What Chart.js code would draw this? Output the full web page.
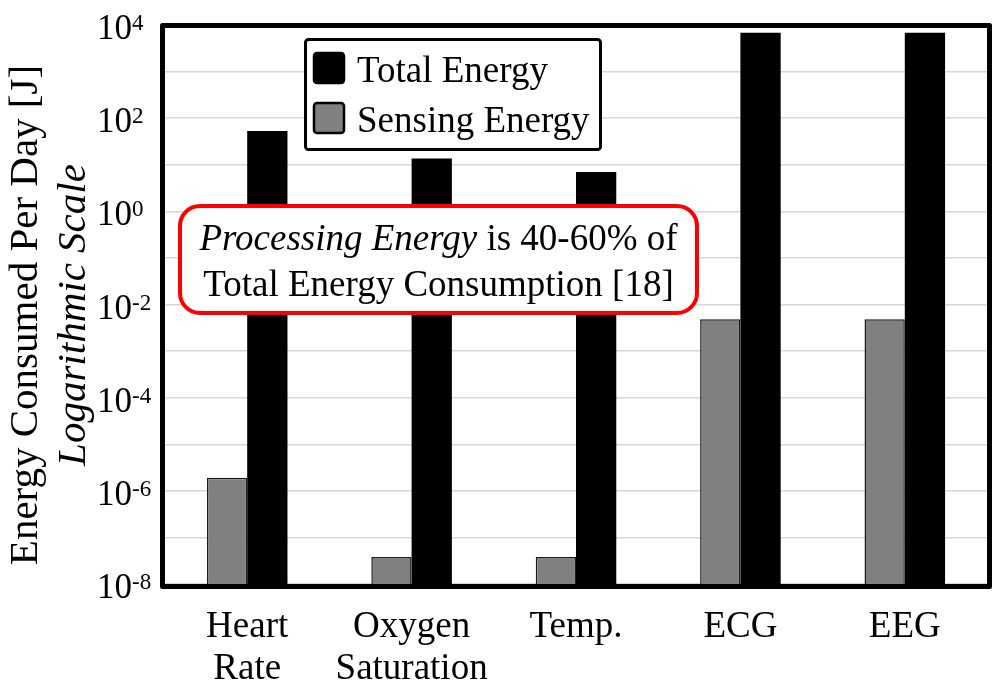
<!DOCTYPE html>
<html>
<head>
<meta charset="utf-8">
<title>Energy Consumed Per Day</title>
<script src="https://cdn.jsdelivr.net/npm/chart.js@4.4.1/dist/chart.umd.min.js"></script>
<style>
    html, body { margin: 0; padding: 0; background: #fff; }
    #wrap { width: 1004px; height: 697px; }
</style>
</head>
<body>
<div id="wrap"><canvas id="energyChart" width="1004" height="697"></canvas></div>
<script>
// ========== DATA ==========
const categories = [['Heart', 'Rate'], ['Oxygen', 'Saturation'], 'Temp.', 'ECG', 'EEG'];
const sensingEnergy = [1.9e-6, 3.8e-8, 3.8e-8, 4.8e-3, 4.8e-3];   // J per day
const totalEnergy = [53, 13.7, 7.0, 6800, 6800];                   // J per day
const yTickValues = [1e4, 1e3, 1e2, 1e1, 1e0, 1e-1, 1e-2, 1e-3, 1e-4, 1e-5, 1e-6, 1e-7, 1e-8];
const yLabelExponents = [4, 2, 0, -2, -4, -6, -8];
// ==========================

const SERIF = "'Liberation Serif', 'Times New Roman', serif";

function roundRectPath(ctx, x, y, w, h, r) {
    ctx.beginPath();
    ctx.moveTo(x + r, y);
    ctx.arcTo(x + w, y, x + w, y + h, r);
    ctx.arcTo(x + w, y + h, x, y + h, r);
    ctx.arcTo(x, y + h, x, y, r);
    ctx.arcTo(x, y, x + w, y, r);
    ctx.closePath();
}

// --- frame, legend, callout box, y labels and axis title ---
const decorations = {
    id: 'decorations',
    beforeDraw(chart) {
        const ctx = chart.ctx;
        ctx.save();
        ctx.fillStyle = '#fff';
        ctx.fillRect(0, 0, chart.width, chart.height);
        ctx.restore();
    },
    afterDatasetsDraw(chart) {
        const { ctx, chartArea: a } = chart;
        ctx.save();

        // thick plot frame
        ctx.lineWidth = 5;
        ctx.strokeStyle = '#000';
        ctx.lineJoin = 'round';
        ctx.strokeRect(a.left - 2.5, a.top + 0.5, a.right - a.left + 5, a.bottom - a.top + 2);

        // legend (Total first, like the original)
        ctx.lineWidth = 3;
        roundRectPath(ctx, 305.5, 39.5, 295, 110, 3);
        ctx.fillStyle = '#fff';
        ctx.fill();
        ctx.stroke();
        const items = chart.data.datasets.slice().reverse();
        ctx.font = `37px ${SERIF}`;
        ctx.textAlign = 'left';
        ctx.textBaseline = 'alphabetic';
        items.forEach((ds, i) => {
            const y = 52 + i * 50;
            roundRectPath(ctx, 314, y + 1, 30, 30, 3);
            ctx.fillStyle = ds.backgroundColor;
            ctx.fill();
            ctx.lineWidth = 2.5;
            ctx.stroke();
            ctx.fillStyle = '#000';
            ctx.fillText(ds.label, 357, y + 30);
        });

        // red callout
        roundRectPath(ctx, 180, 206, 517, 107, 20);
        ctx.fillStyle = '#fff';
        ctx.fill();
        ctx.lineWidth = 4;
        ctx.strokeStyle = '#ff0000';
        ctx.stroke();

        const cx = 438.5;
        const part1 = 'Processing Energy';
        const part2 = ' is 40-60% of';
        ctx.fillStyle = '#000';
        ctx.font = `italic 37px ${SERIF}`;
        const w1 = ctx.measureText(part1).width;
        ctx.font = `37px ${SERIF}`;
        const w2 = ctx.measureText(part2).width;
        const x0 = cx - (w1 + w2) / 2;
        ctx.font = `italic 37px ${SERIF}`;
        ctx.fillText(part1, x0, 250);
        ctx.font = `37px ${SERIF}`;
        ctx.fillText(part2, x0 + w1, 250);
        ctx.textAlign = 'center';
        ctx.fillText('Total Energy Consumption [18]', cx, 296);

        ctx.restore();
    },
    afterDraw(chart) {
        const ctx = chart.ctx;
        const yScale = chart.scales.y;
        ctx.save();
        ctx.fillStyle = '#000';
        ctx.textAlign = 'left';
        ctx.textBaseline = 'alphabetic';

        // 10^n tick labels with raised exponent
        yLabelExponents.forEach(e => {
            const py = yScale.getPixelForValue(Math.pow(10, e));
            ctx.font = `35px ${SERIF}`;
            ctx.fillText('10', 97, py + 14);
            const w = ctx.measureText('10').width;
            ctx.font = `23px ${SERIF}`;
            ctx.fillText(String(e), 97 + w, py + 5);
        });

        // two-line rotated axis title
        ctx.textAlign = 'center';
        ctx.save();
        ctx.translate(37, 315);
        ctx.rotate(-Math.PI / 2);
        ctx.font = `41px ${SERIF}`;
        ctx.fillText('Energy Consumed Per Day [J]', 0, 0);
        ctx.restore();

        ctx.save();
        ctx.translate(85, 315);
        ctx.rotate(-Math.PI / 2);
        ctx.font = `italic 41px ${SERIF}`;
        ctx.fillText('Logarithmic Scale', 0, 0);
        ctx.restore();

        ctx.restore();
    }
};

const chartCtx = document.getElementById('energyChart').getContext('2d');
new Chart(chartCtx, {
    type: 'bar',
    data: {
        labels: categories,
        datasets: [{
            label: 'Sensing Energy',
            data: sensingEnergy,
            backgroundColor: '#808080',
            borderColor: '#1a1a1a',
            borderWidth: 1.5
        }, {
            label: 'Total Energy',
            data: totalEnergy,
            backgroundColor: '#000000',
            borderWidth: 0
        }]
    },
    options: {
        responsive: false,
        animation: false,
        devicePixelRatio: 1,
        layout: { padding: { top: 25, right: 17, left: 0, bottom: 0 } },
        datasets: { bar: { categoryPercentage: 0.49, barPercentage: 1 } },
        plugins: {
            legend: { display: false },
            tooltip: { enabled: false }
        },
        scales: {
            x: {
                afterFit: s => { s.height = 113; },
                grid: { display: false, drawTicks: false },
                border: { display: false },
                ticks: {
                    color: '#000',
                    padding: 22,
                    maxRotation: 0,
                    autoSkip: false,
                    font: { family: SERIF, size: 37, lineHeight: 1.135 }
                }
            },
            y: {
                type: 'logarithmic',
                min: 1e-8,
                max: 1e4,
                afterBuildTicks: s => { s.ticks = yTickValues.map(v => ({ value: v })); },
                afterFit: s => { s.width = 165; },
                ticks: { display: false },
                grid: { color: '#d6d6d6', lineWidth: 1.5, drawTicks: false },
                border: { display: false }
            }
        }
    },
    plugins: [decorations]
});
</script>
</body>
</html>
